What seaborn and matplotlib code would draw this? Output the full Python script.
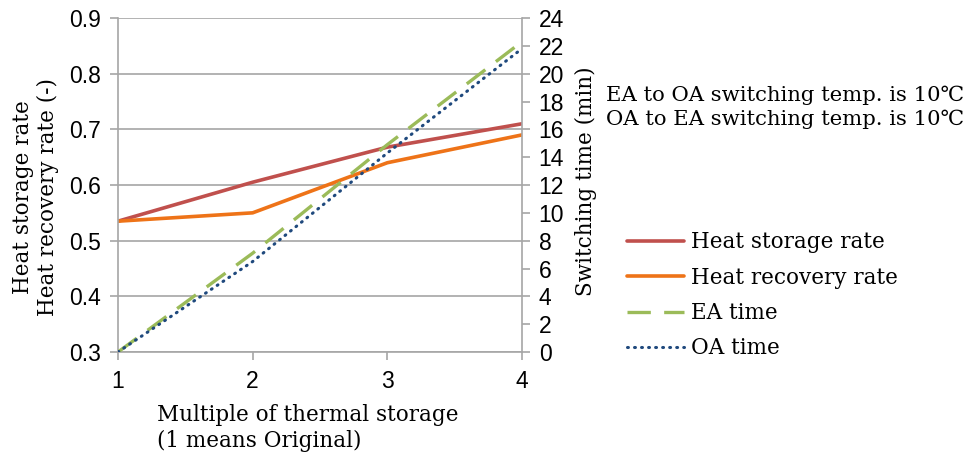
import matplotlib
matplotlib.use("Agg")
import matplotlib.pyplot as plt
import seaborn as sns
import numpy as np

multiple = [1, 2, 3, 4]
heat_storage = [0.535, 0.605, 0.668, 0.710]
heat_recovery = [0.535, 0.550, 0.640, 0.690]
ea_time = [0.0, 7.1, 14.9, 22.3]
oa_time = [0.0, 6.5, 14.3, 21.8]
left_ticks = [0.3, 0.4, 0.5, 0.6, 0.7, 0.8, 0.9]
right_ticks = list(range(0, 25, 2))
x_ticks = [1, 2, 3, 4]

sns.set_theme(style="white")
plt.rcParams['font.family'] = ['DejaVu Sans']
plt.rcParams['text.color'] = 'black'
plt.rcParams['axes.labelcolor'] = 'black'

serif = ['DejaVu Serif']
sans = ['Liberation Sans Narrow', 'Liberation Sans', 'DejaVu Sans']

fig = plt.figure(figsize=(9.68, 4.57), dpi=100)
ax = fig.add_axes([118/968, 1-352/457, (522-118)/968, (352-18)/457])
ax2 = ax.twinx()

sns.lineplot(x=multiple, y=heat_storage, ax=ax, color="#C0504D", lw=2.6, label="Heat storage rate", legend=False)
sns.lineplot(x=multiple, y=heat_recovery, ax=ax, color="#EE7318", lw=2.6, label="Heat recovery rate", legend=False)
sns.lineplot(x=multiple, y=ea_time, ax=ax2, color="#9BBB59", lw=2.4, label="EA time", legend=False)
sns.lineplot(x=multiple, y=oa_time, ax=ax2, color="#1F497D", lw=2.2, label="OA time", legend=False)
ax2.lines[-2].set_dashes([7, 4])
ax2.lines[-1].set_linestyle((0, (0.3, 2.0)))
ax2.lines[-1].set_dash_capstyle('round')

ax.set_xlim(1, 4)
ax.set_ylim(0.3, 0.9)
ax2.set_ylim(0, 24)
ax.set_xticks(x_ticks)
ax.set_yticks(left_ticks)
ax.set_yticklabels([f"{v:.1f}" for v in left_ticks])
ax2.set_yticks(right_ticks)

grid_c = "#A6A6A6"
ax.yaxis.grid(True, color=grid_c, lw=1.2)
ax.xaxis.grid(False)
ax2.grid(False)
for a in (ax, ax2):
    for s in a.spines.values():
        s.set_visible(False)
ax.spines['left'].set_visible(True)
ax.spines['left'].set_color(grid_c)
ax.spines['bottom'].set_visible(True)
ax.spines['bottom'].set_color(grid_c)
ax2.spines['right'].set_visible(True)
ax2.spines['right'].set_color(grid_c)
for a in (ax, ax2):
    for s in a.spines.values():
        s.set_linewidth(1.2)

ax.tick_params(axis='both', which='major', direction='out', length=6, width=1.2, color=grid_c,
               labelsize=16.5, labelcolor='black', pad=6)
ax.tick_params(axis='y', left=True)
ax.tick_params(axis='x', bottom=True, pad=7)
ax2.tick_params(axis='y', right=True, direction='out', length=6, width=1.2, color=grid_c,
                labelsize=16.5, labelcolor='black', pad=6)
for lab in ax.get_xticklabels() + ax.get_yticklabels() + ax2.get_yticklabels():
    lab.set_family(sans)

fs = 15.5
ax.set_xlabel("Multiple of thermal storage\n(1 means Original)", family=serif, fontsize=fs,
              color='black', ha='left', linespacing=1.25)
ax.xaxis.set_label_coords((157-118)/(522-118), -0.155)
ax.set_ylabel("Heat storage rate\nHeat recovery rate (-)", family=serif, fontsize=fs,
              color='black', linespacing=1.2)
ax.yaxis.set_label_coords(-0.145, 0.464)
ax2.set_ylabel("Switching time (min)", family=serif, fontsize=fs, color='black')
ax2.yaxis.set_label_coords(1.131, 0.512)

fig.text(606/968, 1-107/457, "EA to OA switching temp. is 10℃\nOA to EA switching temp. is 10℃",
         family=serif, fontsize=15.2, va='center', ha='left', linespacing=1.32, color='black')

handles = ax.get_lines()[:2] + ax2.get_lines()[:2]
labels = ["Heat storage rate", "Heat recovery rate", "EA time", "OA time"]
leg = fig.legend(handles, labels, loc='upper left', bbox_to_anchor=(608/968, 1-212/457), frameon=False,
                 prop={'family': serif, 'size': fs}, handlelength=2.65, labelspacing=0.62,
                 handletextpad=0.3)
for t in leg.get_texts():
    t.set_color('black')

fig.savefig("out.png", dpi=100)
